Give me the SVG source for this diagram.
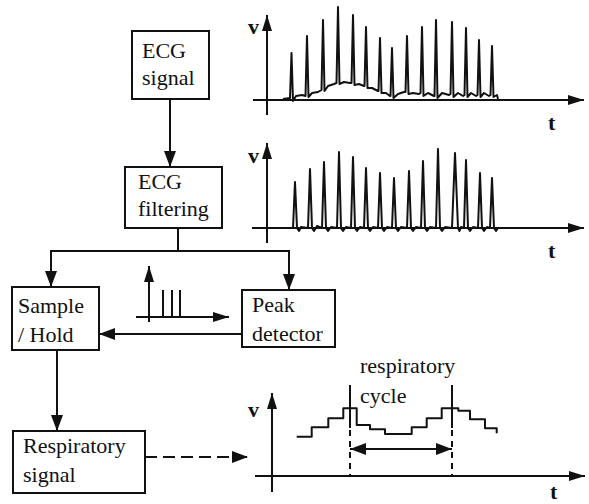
<svg xmlns="http://www.w3.org/2000/svg" width="589" height="504" viewBox="0 0 589 504">
<style>
.box{fill:#fff;stroke:#111;stroke-width:2}
.lbl{font-family:"Liberation Serif","Times New Roman",serif;font-size:22px;fill:#111}
.ax{font-family:"Liberation Serif","Times New Roman",serif;font-size:22px;font-weight:bold;fill:#111}
.ln{fill:none;stroke:#111;stroke-width:2}
.sig{fill:none;stroke:#111;stroke-width:2;stroke-linejoin:round}
</style>
<defs>
<marker id="ah" markerUnits="userSpaceOnUse" markerWidth="16" markerHeight="12" refX="16" refY="6" orient="auto-start-reverse"><path d="M0,0 L16,6 L0,12 z" fill="#111"/></marker>
<marker id="axh" markerUnits="userSpaceOnUse" markerWidth="16" markerHeight="10" refX="16" refY="5" orient="auto-start-reverse"><path d="M0,0 L16,5 L0,10 z" fill="#111"/></marker>
</defs>

<g id="ecg-signal"><rect class="box" x="132" y="31" width="77" height="68"/><text class="lbl" x="142" y="58">ECG</text><text class="lbl" x="142" y="85">signal</text></g>
<g id="ecg-filtering"><rect class="box" x="125" y="167" width="97" height="61"/><text class="lbl" x="138" y="189">ECG</text><text class="lbl" x="138" y="216">filtering</text></g>
<g id="sample-hold"><rect class="box" x="12" y="287" width="87" height="63"/><text class="lbl" x="18" y="313">Sample</text><text class="lbl" x="18" y="342">/ Hold</text></g>
<g id="peak-detector"><rect class="box" x="242" y="290" width="93" height="57"/><text class="lbl" x="252" y="312">Peak</text><text class="lbl" x="252" y="341">detector</text></g>
<g id="respiratory-signal"><rect class="box" x="13" y="431" width="132" height="62"/><text class="lbl" x="23" y="453">Respiratory</text><text class="lbl" x="23" y="482">signal</text></g>

<g id="connectors">
<line class="ln" x1="170" y1="99" x2="170" y2="167" marker-end="url(#ah)"/>
<polyline class="ln" points="178,228 178,251"/>
<polyline class="ln" points="51,287 51,251 289,251 289,290" marker-start="url(#ah)" marker-end="url(#ah)"/>
<line class="ln" x1="242" y1="334" x2="99" y2="334" marker-end="url(#ah)"/>
<line class="ln" x1="57" y1="350" x2="57" y2="431" marker-end="url(#ah)"/>
<line class="ln" x1="145" y1="457" x2="248" y2="457" stroke-dasharray="12 6" marker-end="url(#ah)"/>
</g>

<g id="plot-ecg">
<line class="ln" x1="267" y1="115" x2="267" y2="15" marker-end="url(#axh)"/>
<line class="ln" x1="253" y1="100" x2="584" y2="100" marker-end="url(#axh)"/>
<text class="ax" x="248" y="34">v</text><text class="ax" x="548" y="130">t</text>
<path class="sig" d="M283,99 L290,98 L291.5,53 L293,101 L296,96 L302,95 L305.5,96 L307,36 L308.5,97 L312,93 L318,92 L321.5,90 L323,20 L324.5,91 L328,86 L334,84 L336.5,83 L338,7 L339.5,84 L344,82 L350,83 L351.5,83 L353,15 L354.5,85 L359,84 L364,86 L364.5,86 L366,27 L367.5,88 L372,88 L378,91 L378.5,91 L380,38 L381.5,93 L386,93 L390,96 L390.5,96 L392,48 L393.5,98 L398,94 L404,92 L405.5,92 L407,36 L408.5,94 L413,93 L419,94 L420.5,93 L422,27 L423.5,96 L428,93 L434,96 L434.5,96 L436,20 L437.5,98 L442,93 L449,95 L450.5,94 L452,22 L453.5,97 L458,93 L463,96 L464.5,95 L466,28 L467.5,97 L471,93 L476,96 L477.5,95 L479,40 L480.5,97 L484,93 L489,96 L490.5,95 L492,46 L493.5,97 L497,95 L498,99"/>
</g>

<g id="plot-filtered">
<line class="ln" x1="267" y1="243" x2="267" y2="143" marker-end="url(#axh)"/>
<line class="ln" x1="252" y1="228" x2="584" y2="228" marker-end="url(#axh)"/>
<text class="ax" x="248" y="163">v</text><text class="ax" x="548" y="258">t</text>
<path class="sig" d="M285,228 L293,228 L295,182 L297,228 L299,231 L301,227 L308,228 L310,169 L312,228 L314,231 L317,226 L322,228 L324,162 L326,228 L328,231 L331,227 L337,228 L339,152 L341,228 L343,231 L346,227 L351,228 L353,157 L355,228 L357,231 L360,227 L364,228 L366,168 L368,228 L370,231 L373,227 L378,228 L380,173 L382,228 L384,231 L387,227 L392,228 L394,178 L396,228 L398,231 L401,227 L407,228 L409,171 L411,228 L413,231 L416,227 L421,228 L423,161 L425,228 L427,231 L430,227 L436,228 L438,149 L440,228 L442,231 L445,227 L452,228 L455,153 L458,228 L459.5,231 L461,227 L464,228 L466,160 L468,228 L470,231 L473,227 L478,228 L480,173 L482,228 L484,231 L487,227 L490,228 L492,178 L494,228 L496,231 L498,228"/>
</g>

<g id="plot-pulses">
<line class="ln" x1="149" y1="322" x2="149" y2="266" marker-end="url(#axh)"/>
<line class="ln" x1="136" y1="317" x2="229" y2="317" marker-end="url(#axh)"/>
<path class="ln" stroke-width="2.5" d="M163,317 V290 M172,317 V290 M180,317 V290"/>
</g>

<g id="plot-respiration">
<line class="ln" x1="272" y1="492" x2="272" y2="393" marker-end="url(#axh)"/>
<line class="ln" x1="255" y1="476" x2="585" y2="476" marker-end="url(#axh)"/>
<text class="ax" x="248" y="417">v</text><text class="ax" x="550" y="499">t</text>
<path class="sig" stroke-linejoin="miter" d="M296.7,436.7 H311.7 V427.3 H328.3 V418.3 H343.3 V408.3 H356.7 V425 H370 V429.3 H385 V434 H411.7 V427.3 H426.7 V418.3 H441.7 V408.3 H458.3 V410.7 H470 V419.3 H485 V428.3 H496.7 V433.3"/>
<path class="ln" d="M350,385 V428 M452,385 V428"/>
<path class="ln" stroke-dasharray="6 5" d="M350,430 V477 M452,430 V477"/>
<line class="ln" x1="350" y1="449" x2="452" y2="449" marker-start="url(#ah)" marker-end="url(#ah)"/>
<text class="lbl" x="360" y="373">respiratory</text>
<text class="lbl" x="360" y="403">cycle</text>
</g>
</svg>
